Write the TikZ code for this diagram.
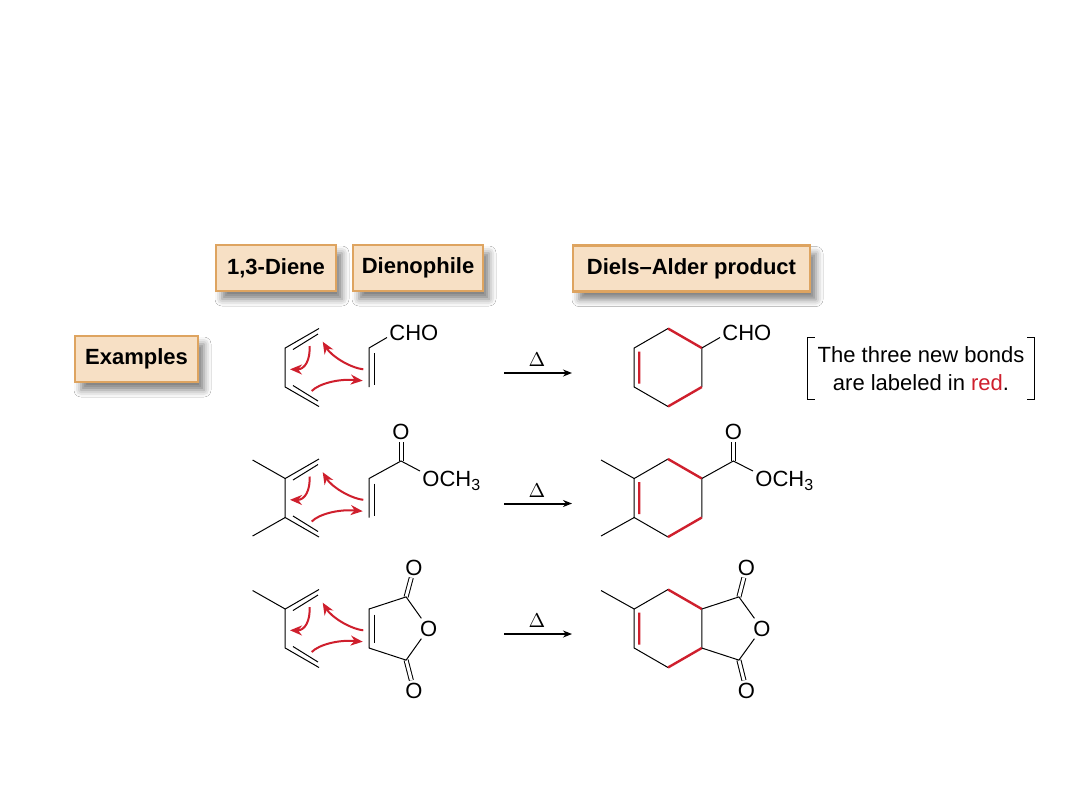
\documentclass[tikz,border=0pt]{standalone}
\usepackage{fontspec}
\setmainfont{Liberation Sans}
\usetikzlibrary{arrows.meta,shadows.blur}

\definecolor{tagfill}{HTML}{F7E0C5}
\definecolor{tagline}{HTML}{DEA460}
\definecolor{newred}{HTML}{CF1F2D}

\tikzset{
  tag/.style={draw=tagline, line width=1.1pt, fill=tagfill, minimum height=23pt,
    font=\fontsize{11}{13}\selectfont\bfseries,
    blur shadow={shadow xshift=3pt, shadow yshift=-4pt, shadow blur radius=3.5pt, shadow opacity=50}},
  bond/.style={line width=.5pt},
  newbond/.style={line width=1.2pt, newred},
  push/.style={newred, line width=1pt, -{Stealth[length=6pt,width=5pt]}},
  atom/.style={font=\fontsize{11}{13}\selectfont, inner sep=1pt},
  heat/.style={line width=1pt, -{Stealth[length=4.5pt,width=3.5pt]}},
}
\newcommand{\sub}[1]{\raisebox{-2pt}{\fontsize{8}{8}\selectfont #1}}

\begin{document}
\begin{tikzpicture}[x=.5pt, y=-.5pt]
\fill[white] (0,0) rectangle (1080,810);
\useasboundingbox (0,0) rectangle (1080,810);

% heads
\node[tag, minimum width=60pt] (diene) at (276,268) {1,3-Diene};
\node[tag, minimum width=65pt] (dienophile) at (418,268) {Dienophile};
\node[tag, minimum width=118.5pt] (product) at (691.5,268.5) {Diels–Alder product};
\node[tag, minimum width=61.5pt] (examples) at (136.5,359) {Examples};

% note with brackets
\node[align=center, font=\fontsize{11}{14}\selectfont, minimum width=113pt, minimum height=30.5pt] (note) at (921,368.5)
  {The three new bonds\\are labeled in \textcolor{newred}{red}.};
\draw[line width=.6pt] ([xshift=3.5pt]note.north west) -| (note.south west) -- ++(3.5pt,0);
\draw[line width=.6pt] ([xshift=-3.5pt]note.north east) -| (note.south east) -- ++(-3.5pt,0);

% row 1
\begin{scope}[shift={(0,367.5)}]
\coordinate (t) at (319,-39); \coordinate (ul) at (285.2,-19.5);
\coordinate (ll) at (285.2,19.5); \coordinate (b) at (319,39);
\draw[bond] (t) -- (ul) -- (ll) -- (b);
\draw[bond] (293,-18) -- (318,-33.5);
\draw[bond] (293,18) -- (318,33.5);
\coordinate (p1) at (369,-19.5); \coordinate (p2) at (369,19.5);
\node[atom, anchor=base west] (cho1) at (387,-27) {CHO};
\draw[bond] (p2) -- (p1) -- ([yshift=1.5pt]cho1.base west);
\draw[bond] (374,-14.5) -- (374,17.5);
% product
\coordinate (q1) at (668,-39); \coordinate (q2) at (701.8,-19.5);
\coordinate (q3) at (701.8,19.5); \coordinate (q4) at (668,39);
\coordinate (q5) at (634.2,19.5); \coordinate (q6) at (634.2,-19.5);
\draw[bond] (q2) -- (q3) (q4) -- (q5) -- (q6) -- (q1);
\draw[newbond] (q1) -- (q2) (q3) -- (q4) (639.2,-16) -- (639.2,16);
\node[atom, anchor=base west] (cho2) at (720,-27) {CHO};
\draw[bond] (q2) -- ([yshift=1.5pt]cho2.base west);
\end{scope}

% row 2
\begin{scope}[shift={(0,498)}]
\coordinate (t) at (319,-39); \coordinate (ul) at (285.2,-19.5);
\coordinate (ll) at (285.2,19.5); \coordinate (b) at (319,39);
\draw[bond] (t) -- (ul) -- (ll) -- (b);
\draw[bond] (ul) -- (252.6,-38) (ll) -- (252.6,38);
\draw[bond] (293,-18) -- (318,-33.5);
\draw[bond] (293,18) -- (318,33.5);
\coordinate (p1) at (369,-19.5); \coordinate (p2) at (369,19.5);
\coordinate (c1) at (401,-37);
\node[atom] (o1) at (401,-66.5) {O};
\node[atom, anchor=base west] (och1) at (420,-11.8) {OCH\sub{3}};
\draw[bond, double, double distance=1.5pt] (c1) -- (o1);
\draw[bond] (p2) -- (p1) -- (c1) -- ([yshift=7.6pt]och1.base west);
\draw[bond] (374,-14.5) -- (374,17.5);
% product
\coordinate (q1) at (668,-39); \coordinate (q2) at (701.8,-19.5);
\coordinate (q3) at (701.8,19.5); \coordinate (q4) at (668,39);
\coordinate (q5) at (634.2,19.5); \coordinate (q6) at (634.2,-19.5);
\draw[bond] (q2) -- (q3) (q4) -- (q5) -- (q6) -- (q1);
\draw[bond] (q6) -- (601,-38) (q5) -- (601,38);
\draw[newbond] (q1) -- (q2) (q3) -- (q4) (639.2,-16) -- (639.2,16);
\coordinate (c2) at (733.3,-37);
\node[atom] (o2) at (733.3,-66.5) {O};
\node[atom, anchor=base west] (och2) at (753,-11.8) {OCH\sub{3}};
\draw[bond, double, double distance=1.5pt] (c2) -- (o2);
\draw[bond] (q2) -- (c2) -- ([yshift=7.6pt]och2.base west);
\end{scope}

% row 3
\begin{scope}[shift={(0,628.5)}]
\coordinate (t) at (319,-39); \coordinate (ul) at (285.2,-19.5);
\coordinate (ll) at (285.2,19.5); \coordinate (b) at (319,39);
\draw[bond] (t) -- (ul) -- (ll) -- (b);
\draw[bond] (ul) -- (252.6,-38);
\draw[bond] (293,-18) -- (318,-33.5);
\draw[bond] (293,18) -- (318,33.5);
\coordinate (p1) at (369,-19.5); \coordinate (p2) at (369,19.5);
\coordinate (c1) at (406.1,-31.6); \coordinate (c4) at (406.1,31.6);
\node[atom] (o1) at (428.6,0) {O};
\node[atom] (ot1) at (414,-61) {O};
\node[atom] (ob1) at (414,62) {O};
\draw[bond, double, double distance=1.5pt] (c1) -- (ot1) (c4) -- (ob1);
\draw[bond] (p2) -- (p1) -- (c1) -- (o1) -- (c4) -- (p2);
\draw[bond] (374,-14) -- (374,14);
% product
\coordinate (q1) at (668,-39); \coordinate (q2) at (701.8,-19.5);
\coordinate (q3) at (701.8,19.5); \coordinate (q4) at (668,39);
\coordinate (q5) at (634.2,19.5); \coordinate (q6) at (634.2,-19.5);
\draw[bond] (q2) -- (q3) (q4) -- (q5) -- (q6) -- (q1);
\draw[bond] (q6) -- (601,-38);
\draw[newbond] (q1) -- (q2) (q3) -- (q4) (639.2,-16) -- (639.2,16);
\coordinate (c2) at (738.9,-31.6); \coordinate (c3) at (738.9,31.6);
\node[atom] (o2) at (761.8,0) {O};
\node[atom] (ot2) at (746.5,-61) {O};
\node[atom] (ob2) at (746.5,62) {O};
\draw[bond, double, double distance=1.5pt] (c2) -- (ot2) (c3) -- (ob2);
\draw[bond] (q2) -- (c2) -- (o2) -- (c3) -- (q3);
\end{scope}

% electron pushing and heat arrows
\foreach \cy [count=\i] in {367.5,498,628.5} {
  \begin{scope}[shift={(319,\cy)}]
  \draw[push] (-9.5,-21.5) .. controls (-8.5,-8) and (-14,2) .. (-29,1.8);
  \draw[push] (44.3,1.8) .. controls (30,0) and (12,-12) .. (3.7,-25.8);
  \draw[push] (-7.3,23.5) .. controls (0,16) and (20,11) .. (43.7,13.2);
  \end{scope}
  \coordinate (h\i a) at (504,\cy+5.5);
  \coordinate (h\i b) at (572,\cy+5.5);
  \draw[heat] (h\i a) -- (h\i b);
  \node[font=\fontsize{10}{12}\selectfont, inner sep=0pt] (d\i) at (537,\cy-7.5) {$\Delta$};
}
\end{tikzpicture}
\end{document}
